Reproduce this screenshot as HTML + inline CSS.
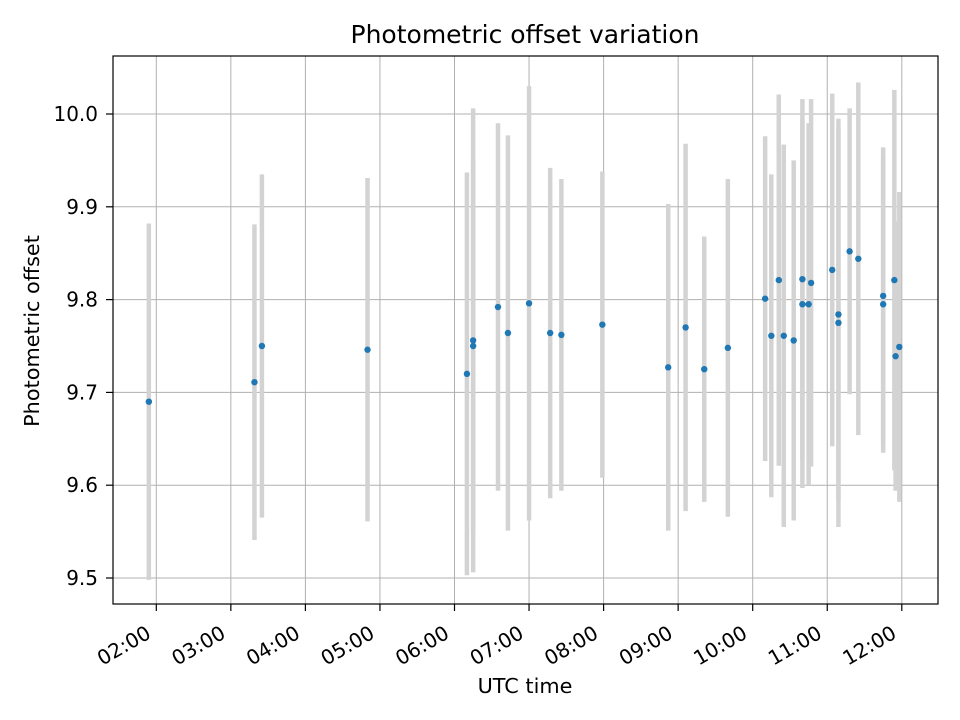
<!DOCTYPE html>
<html><head><meta charset="utf-8"><style>
body{margin:0;background:#fff;}
svg{display:block;font-family:"DejaVu Sans","Liberation Sans",sans-serif;}
</style></head><body>
<svg id="chart" width="960" height="720" viewBox="0 0 960 720" xmlns="http://www.w3.org/2000/svg">
<rect width="960" height="720" fill="#fff"/>
<g id="grid"></g>
<g id="bars"></g>
<g id="pts"></g>
<rect x="113" y="56" width="825" height="548" fill="none" stroke="#000" stroke-width="1.2"/>
<g id="ticks"></g>
<text x="525" y="43" text-anchor="middle" font-size="25">Photometric offset variation</text>
<text x="525" y="693" text-anchor="middle" font-size="20.8">UTC time</text>
<text transform="translate(39,331) rotate(-90)" text-anchor="middle" font-size="20.8">Photometric offset</text>
</svg>
<script>
const times = ["01:54","03:19","03:25","04:50","06:10","06:15","06:15","06:35","06:43","07:00","07:17","07:26","07:59","08:52","09:06","09:21","09:40","10:10","10:15","10:21","10:25","10:33","10:40","10:40","10:45","10:47","11:04","11:09","11:09","11:18","11:25","11:45","11:45","11:54","11:55","11:58"];
const offsets = [9.690,9.711,9.750,9.746,9.720,9.756,9.750,9.792,9.764,9.796,9.764,9.762,9.773,9.727,9.770,9.725,9.748,9.801,9.761,9.821,9.761,9.756,9.822,9.795,9.795,9.818,9.832,9.775,9.784,9.852,9.844,9.804,9.795,9.821,9.739,9.749];
const errors = [0.192,0.17,0.185,0.185,0.217,0.25,0.2,0.198,0.213,0.234,0.178,0.168,0.165,0.176,0.198,0.143,0.182,0.175,0.174,0.2,0.206,0.194,0.194,0.198,0.195,0.198,0.19,0.22,0.2,0.154,0.19,0.16,0.16,0.205,0.145,0.167];
const xTickLabels = ["02:00","03:00","04:00","05:00","06:00","07:00","08:00","09:00","10:00","11:00","12:00"];
const yTickLabels = ["9.5","9.6","9.7","9.8","9.9","10.0"];

const NS="http://www.w3.org/2000/svg";
function hours(t){const p=t.split(":");return +p[0]+(+p[1])/60;}
function xs(h){return 156.3+(h-2)*74.55;}
function ys(v){return 578-(v-9.5)*928;}
function mk(tag,attrs,parent){const e=document.createElementNS(NS,tag);for(const k in attrs)e.setAttribute(k,attrs[k]);parent.appendChild(e);return e;}
const grid=document.getElementById("grid"),ticks=document.getElementById("ticks"),bars=document.getElementById("bars"),pts=document.getElementById("pts");
xTickLabels.forEach(l=>{
  const x=xs(hours(l));
  const g=mk("line",{x1:x,x2:x,y1:56,y2:604,stroke:"#b0b0b0","stroke-width":1},grid);
  
  
  const t=mk("line",{x1:x,x2:x,y1:604,y2:611,stroke:"#000","stroke-width":1.2},ticks);
  
  
  const tx=mk("text",{transform:`translate(${x-4},637) rotate(-30)`,"text-anchor":"end","font-size":"20"},ticks);
  tx.textContent=l;
  
  
});
yTickLabels.forEach(l=>{
  const y=ys(+l);
  const g=mk("line",{x1:113,x2:938,y1:y,y2:y,stroke:"#b0b0b0","stroke-width":1},grid);
  
  
  const t=mk("line",{x1:106,x2:113,y1:y,y2:y,stroke:"#000","stroke-width":1.2},ticks);
  
  
  const tx=mk("text",{x:98,y:y+7,"text-anchor":"end","font-size":"20"},ticks);
  tx.textContent=l;
  
  
});
times.forEach((t,i)=>{
  const x=xs(hours(t));
  const b=mk("line",{x1:x,x2:x,y1:ys(offsets[i]-errors[i]),y2:ys(offsets[i]+errors[i]),stroke:"#d3d3d3","stroke-width":4.5},bars);
  
  
  const c=mk("circle",{cx:x,cy:ys(offsets[i]),r:3.2,fill:"#1f77b4"},pts);
  
  
});
</script>
</body></html>
